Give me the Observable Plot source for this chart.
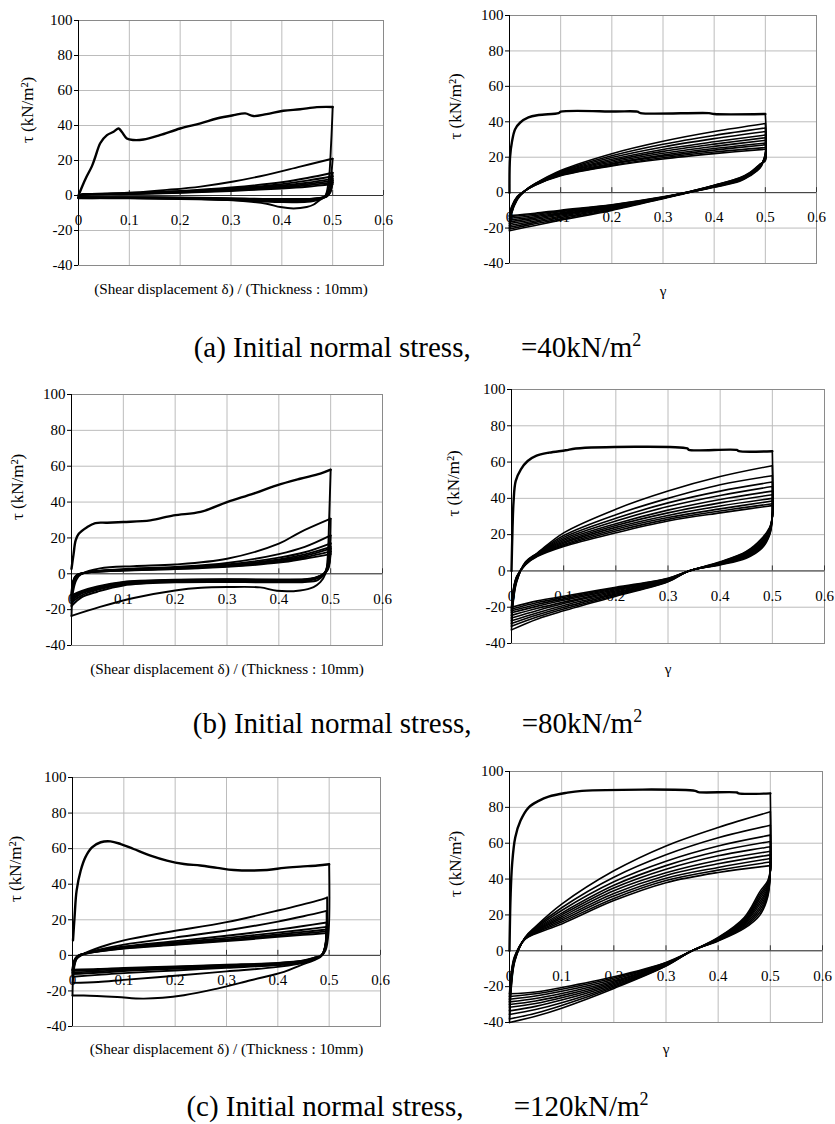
<!DOCTYPE html>
<html><head><meta charset="utf-8">
<script src="https://cdn.jsdelivr.net/npm/d3@7"></script>
<script src="https://cdn.jsdelivr.net/npm/@observablehq/plot@0.6"></script>
<style>
html,body{margin:0;padding:0;background:#fff;}
#page{position:relative;width:835px;height:1124px;overflow:hidden;font-family:"Liberation Serif","Times New Roman",serif;color:#000;}
#page svg, #page svg text{font-family:"Liberation Serif","Times New Roman",serif !important;}
.panel{position:absolute;}
.cap{position:absolute;left:0;width:835px;text-align:center;font-size:29px;line-height:29px;white-space:nowrap;font-family:"Liberation Serif","Times New Roman",serif;}
.cap sup{font-size:18px;line-height:0;vertical-align:11px;}
.gap{display:inline-block;width:43px;}
</style></head><body><div id="page"></div>
<script>
const FONT = "Liberation Serif";
const xTicks = [0, 0.1, 0.2, 0.3, 0.4, 0.5, 0.6];
const xTickLabels = ["0", "0.1", "0.2", "0.3", "0.4", "0.5", "0.6"];
const yTicks = [-40, -20, 0, 20, 40, 60, 80, 100];
const yTitle = "τ (kN/m²)";
const xTitleShear = "(Shear displacement δ) / (Thickness : 10mm)";
const xTitleGamma = "γ";
const captions = [
  ["(a) Initial normal stress,", "=40kN/m"],
  ["(b) Initial normal stress,", "=80kN/m"],
  ["(c) Initial normal stress,", "=120kN/m"]
];

// ---------- (a) left : shear displacement ratio ----------
const aL_load = [[0,0],[0.007,5],[0.016,10.8],[0.026,16.5],[0.033,22],[0.043,30],[0.056,34.5],[0.069,36.4],[0.079,38.3],[0.085,36.4],[0.095,32.6],[0.108,31.7],[0.128,32],[0.16,34.5],[0.2,38.3],[0.24,41.2],[0.272,44],[0.305,45.9],[0.328,46.9],[0.344,45.4],[0.37,46.5],[0.403,48.4],[0.436,49.3],[0.469,50.5],[0.5,50.6]];
const aL_unload = [
  [[0.5,50.6],[0.497,30],[0.492,8],[0.485,-0.6],[0.475,-2.5],[0.462,-5.3],[0.449,-6.6],[0.423,-7.4],[0.397,-6.6],[0.37,-4.7],[0.305,-2.8],[0.24,-2],[0.174,-1.7],[0.108,-1.5],[0.043,-1.5],[0,-1.6]],
  [[0.5,21],[0.494,6],[0.486,0],[0.47,-2.6],[0.45,-3.6],[0.4,-3.8],[0.35,-3.2],[0.3,-2.6],[0.2,-2],[0.1,-1.6],[0,-1.5]],
  [[0.5,13],[0.495,4],[0.488,0],[0.47,-2],[0.45,-3],[0.4,-3.2],[0.3,-2.4],[0.2,-1.8],[0.1,-1.4],[0,-1.3]],
  [[0.5,11],[0.495,3],[0.488,-0.5],[0.47,-2.2],[0.44,-3.3],[0.38,-3],[0.3,-2.2],[0.2,-1.6],[0.1,-1.3],[0,-1.2]],
  [[0.5,9.5],[0.495,2.5],[0.488,-0.3],[0.47,-1.6],[0.43,-2.5],[0.35,-2.3],[0.25,-1.6],[0.1,-1.1],[0,-1]],
  [[0.5,8.5],[0.495,2],[0.488,-0.5],[0.47,-1.8],[0.44,-2.8],[0.4,-2.6],[0.3,-1.9],[0.15,-1.2],[0,-1]],
  [[0.5,7.5],[0.495,1.5],[0.488,-0.6],[0.46,-1.8],[0.4,-2],[0.3,-1.6],[0.15,-1],[0,-0.9]]
];
const aL_reload = [
  [[0,-1.6],[0.003,0.4],[0.043,0.8],[0.108,1.7],[0.174,3.2],[0.24,5.1],[0.305,8],[0.37,11.8],[0.436,16.5],[0.495,20.7],[0.5,21]],
  [[0,-1.5],[0.004,0.3],[0.05,0.8],[0.1,1.4],[0.2,2.6],[0.3,4.6],[0.4,7.6],[0.45,10],[0.5,13]],
  [[0,-1.3],[0.004,0.2],[0.05,0.7],[0.1,1.2],[0.2,2.3],[0.3,4],[0.4,6.5],[0.45,8.5],[0.5,11]],
  [[0,-1.2],[0.004,0.2],[0.1,1.1],[0.2,2.1],[0.3,3.6],[0.4,5.7],[0.45,7.3],[0.5,9.5]],
  [[0,-1],[0.004,0.2],[0.1,1],[0.2,1.9],[0.3,3.2],[0.4,5],[0.45,6.5],[0.5,8.5]],
  [[0,-1],[0.004,0.1],[0.1,0.9],[0.2,1.7],[0.3,2.9],[0.4,4.5],[0.45,5.8],[0.5,7.5]],
  [[0,-0.9],[0.004,0.1],[0.1,0.8],[0.2,1.5],[0.3,2.6],[0.4,4],[0.45,5],[0.5,6.5]]
];

// ---------- (a) right : gamma ----------
const aR_load = [[0,0],[0.001,19.8],[0.005,29],[0.011,35.8],[0.021,39.6],[0.037,42.5],[0.057,43.8],[0.096,44.9],[0.1,45.7],[0.207,45.8],[0.25,45.7],[0.256,44.9],[0.39,44.9],[0.4,44.4],[0.5,44.4]];
const aR_unload_x = [0.5,0.5,0.49,0.47,0.45,0.4,0.35,0.3,0.2,0.1,0.05,0];
const aR_unload_y = [
  [44.4,22,14,9.5,6.5,3,0,-3.4,-10,-15.5,-18.5,-21.5],
  [39,22,14.5,9.8,6.8,3.2,0.1,-3.2,-9.5,-14.8,-17.6,-20.5],
  [36.5,21.5,14.8,10,7,3.3,0.1,-3.1,-9.1,-14,-16.8,-19.5],
  [34.5,21,15,10.2,7.2,3.5,0.2,-3,-8.7,-13.3,-16,-18.5],
  [32.5,20.5,15.2,10.4,7.4,3.6,0.2,-2.9,-8.3,-12.6,-15.2,-17.5],
  [31,20,15.4,10.6,7.6,3.8,0.3,-2.8,-7.9,-12,-14.4,-16.5],
  [29.5,19.5,15.6,10.8,7.8,3.9,0.3,-2.7,-7.6,-11.4,-13.6,-15.5],
  [28,19,15.8,11,8,4,0.4,-2.6,-7.3,-10.8,-12.9,-14.5],
  [27,18.5,16,11.2,8.2,4.1,0.4,-2.5,-7,-10.3,-12.2,-13.5],
  [25.5,18,16.2,11.4,8.4,4.2,0.5,-2.4,-6.8,-9.9,-11.6,-13]
];
const aR_reload_x = [0,0.004,0.015,0.03,0.05,0.1,0.2,0.3,0.4,0.5];
const aR_reload_y = [
  [-21.5,-12,-4,1,5,12.5,22,29,34.5,39],
  [-20.5,-11.5,-3.8,1,5,12,20.8,27.3,32.3,36.5],
  [-19.5,-11,-3.6,1,4.9,11.6,19.8,25.8,30.5,34.5],
  [-18.5,-10.5,-3.4,1,4.8,11.2,18.8,24.4,28.7,32.5],
  [-17.5,-10,-3.2,1,4.7,10.9,18,23.3,27.4,31],
  [-16.5,-9.6,-3,1,4.6,10.6,17.2,22.2,26.1,29.5],
  [-15.5,-9.2,-2.8,1,4.5,10.3,16.5,21.2,24.9,28],
  [-14.5,-8.8,-2.6,1,4.4,10,16,20.5,24,27],
  [-13.5,-8.4,-2.4,1,4.3,9.8,15.4,19.7,22.9,25.5],
  [-13,-8,-2.2,1,4.2,9.5,15,19,22,24.5]
];

// ---------- (b) left ----------
const bL_load = [[0,2.8],[0.004,11],[0.008,18.6],[0.014,22.3],[0.03,26],[0.046,28.3],[0.069,28.5],[0.1,28.9],[0.152,29.8],[0.197,32.6],[0.249,34.5],[0.3,40],[0.351,44.7],[0.396,49.3],[0.441,53],[0.48,55.9],[0.5,58.1]];
const bL_unload = [
  [[0.5,58.1],[0.497,30],[0.494,8],[0.49,0],[0.48,-4.7],[0.467,-7.4],[0.441,-9.3],[0.396,-9.5],[0.364,-7.6],[0.3,-7.4],[0.25,-7.8],[0.2,-9.3],[0.12,-13.5],[0.055,-18.5],[0,-23.5]],
  [[0.5,30.7],[0.496,8],[0.488,0],[0.475,-3.5],[0.45,-4.6],[0.4,-4.8],[0.3,-4.6],[0.2,-4.8],[0.1,-6.5],[0.05,-10],[0.02,-13],[0,-18]],
  [[0.5,21.4],[0.495,5],[0.487,0],[0.47,-3],[0.45,-4],[0.4,-4.2],[0.3,-4],[0.2,-4.3],[0.1,-6],[0.05,-9],[0.02,-12],[0,-16]],
  [[0.5,17],[0.495,4],[0.487,0],[0.47,-2.7],[0.45,-3.7],[0.4,-3.9],[0.3,-3.7],[0.2,-4],[0.1,-5.5],[0.05,-8.5],[0.02,-11],[0,-15]],
  [[0.5,15],[0.495,3.5],[0.487,0],[0.47,-2.5],[0.45,-3.4],[0.4,-3.6],[0.3,-3.4],[0.2,-3.7],[0.1,-5],[0.05,-8],[0.02,-10.5],[0,-14]],
  [[0.5,14],[0.495,3],[0.487,0],[0.47,-2.3],[0.45,-3.2],[0.4,-3.4],[0.3,-3.2],[0.2,-3.5],[0.1,-4.8],[0.05,-7.5],[0.02,-10],[0,-13]],
  [[0.5,12.5],[0.495,2.5],[0.487,0],[0.47,-2.2],[0.45,-3],[0.4,-3.2],[0.3,-3],[0.2,-3.3],[0.1,-4.5],[0.05,-7],[0.02,-9.5],[0,-12]]
];
const bL_reload = [
  [[0,-23.5],[0.003,-10],[0.01,-3],[0.02,0],[0.055,3],[0.12,4.3],[0.2,5.2],[0.3,8.4],[0.4,16.8],[0.44,23],[0.5,30.7]],
  [[0,-18],[0.003,-7],[0.01,-1.5],[0.03,0.8],[0.1,2.6],[0.2,3.8],[0.3,6],[0.4,11],[0.45,15],[0.5,21.4]],
  [[0,-16],[0.003,-6],[0.01,-1.2],[0.03,0.8],[0.1,2.4],[0.2,3.4],[0.3,5.2],[0.4,9],[0.45,12],[0.5,17]],
  [[0,-15],[0.003,-5.5],[0.01,-1],[0.03,0.8],[0.1,2.2],[0.2,3.2],[0.3,4.8],[0.4,8],[0.45,10.8],[0.5,15]],
  [[0,-14],[0.003,-5],[0.01,-1],[0.03,0.7],[0.1,2],[0.2,3],[0.3,4.5],[0.4,7.4],[0.45,10],[0.5,14]],
  [[0,-13],[0.003,-4.5],[0.01,-0.8],[0.03,0.7],[0.1,1.9],[0.2,2.8],[0.3,4.2],[0.4,6.8],[0.45,9.2],[0.5,12.5]],
  [[0,-12],[0.003,-4],[0.01,-0.7],[0.03,0.6],[0.1,1.8],[0.2,2.6],[0.3,3.9],[0.4,6.2],[0.45,8.4],[0.5,11]]
];

// ---------- (b) right ----------
const bR_load = [[0,0],[0.002,23.7],[0.004,38.4],[0.008,49.5],[0.018,56],[0.031,60.6],[0.047,63.4],[0.072,65.2],[0.104,66.5],[0.123,67.5],[0.337,67.5],[0.34,66.7],[0.432,66.7],[0.436,66],[0.5,66]];
const bR_unload_x = [0.5,0.5,0.495,0.48,0.45,0.4,0.34,0.3,0.2,0.1,0.05,0];
const bR_unload_y = [
  [66,30,20,12.5,7,3.3,0,-6,-14,-22,-26.5,-32.5],
  [58,30,20.5,13,7.5,3.5,0,-5.8,-13.4,-21,-25.3,-30.5],
  [52.5,30,21,13.6,8,3.7,0,-5.6,-12.8,-20,-24.2,-29],
  [49,30,21.5,14.2,8.4,3.9,0,-5.4,-12.2,-19,-23,-27.5],
  [46.5,30,22,14.8,8.8,4.1,0,-5.1,-11.6,-18,-21.8,-26],
  [44,30,22.5,15.4,9.2,4.3,0,-4.9,-11,-17.2,-20.6,-24.5],
  [42,30,23,16,9.6,4.5,0,-4.6,-10.4,-16.2,-19.4,-23],
  [40,30,23.3,16.6,10,4.7,0,-4.4,-9.8,-15.4,-18.4,-22],
  [38.5,30,23.6,17.3,10.4,4.8,0,-4.2,-9.4,-14.6,-17.4,-21],
  [37,30,24,18,10.7,5,0,-4,-9,-14,-16.5,-20]
];
const bR_reload_x = [0,0.003,0.01,0.027,0.05,0.1,0.2,0.3,0.4,0.5];
const bR_reload_y = [
  [-32.5,-18,-6,5,10,21,34,44,52,58],
  [-30.5,-17,-5.6,4.8,9.8,19.5,31,40,47.5,52.5],
  [-29,-16,-5.2,4.6,9.6,18.5,29,37.5,44,49],
  [-27.5,-15,-4.8,4.4,9.4,17.6,27.5,35.5,41.6,46.5],
  [-26,-14.2,-4.4,4.2,9.2,16.8,26,33.5,39.4,44],
  [-24.5,-13.5,-4,4,9,16,25,32,37.5,42],
  [-23,-12.8,-3.7,3.9,8.8,15.3,24,30.6,35.8,40],
  [-22,-12.2,-3.4,3.8,8.6,14.6,23,29.4,34.2,38.5],
  [-21,-11.6,-3.2,3.6,8.3,14,22,28.4,33,37],
  [-20,-11,-3,3.5,8,13.5,21,27.5,32,36]
];

// ---------- (c) left ----------
const cL_load = [[0.001,8.4],[0.004,21.5],[0.008,36.4],[0.016,47.7],[0.025,55.1],[0.038,60.7],[0.055,63.6],[0.074,64.1],[0.094,62.6],[0.119,59.8],[0.152,56.1],[0.184,53.3],[0.217,51.4],[0.249,50.5],[0.282,49.2],[0.314,48],[0.379,48],[0.412,49.2],[0.444,49.9],[0.477,50.5],[0.5,51.2]];
const cL_unload = [
  [[0.5,51.2],[0.499,14],[0.493,2.8],[0.483,-0.9],[0.47,-2.8],[0.444,-5.6],[0.412,-9.3],[0.347,-14],[0.282,-18.7],[0.217,-22.4],[0.139,-24.3],[0.087,-23.4],[0.022,-22.6],[0,-22.6]],
  [[0.496,32.5],[0.494,8],[0.488,1],[0.48,-1],[0.46,-3.5],[0.4,-6.5],[0.3,-9],[0.2,-11.5],[0.1,-13.8],[0.05,-15],[0,-15.5]],
  [[0.495,25],[0.493,6],[0.486,0],[0.47,-2],[0.45,-4],[0.4,-5.5],[0.3,-7],[0.2,-8.5],[0.1,-10],[0.05,-11],[0,-12]],
  [[0.495,18.5],[0.492,5],[0.485,0],[0.47,-1.8],[0.45,-3.5],[0.4,-5],[0.3,-6.5],[0.2,-7.5],[0.1,-8.8],[0.05,-9.8],[0,-10.5]],
  [[0.495,16],[0.492,4.5],[0.485,0],[0.47,-1.6],[0.45,-3.2],[0.4,-4.7],[0.3,-6],[0.2,-7],[0.1,-8.2],[0.05,-9],[0,-9.5]],
  [[0.495,14.5],[0.492,4],[0.485,0],[0.47,-1.5],[0.45,-3],[0.4,-4.4],[0.3,-5.6],[0.2,-6.5],[0.1,-7.5],[0.05,-8.2],[0,-8.5]],
  [[0.495,13.5],[0.492,3.5],[0.485,0],[0.47,-1.4],[0.45,-2.8],[0.4,-4.2],[0.3,-5.3],[0.2,-6.2],[0.1,-7.1],[0.05,-7.7],[0,-8]]
];
const cL_reload = [
  [[0,-22.6],[0.002,-10],[0.008,-2],[0.02,0.5],[0.055,4.7],[0.1,8.4],[0.184,13],[0.3,18.7],[0.4,25.2],[0.477,30.8],[0.496,32.5]],
  [[0,-15.5],[0.003,-6],[0.01,-1],[0.03,1.5],[0.1,6],[0.2,10],[0.3,14],[0.4,19],[0.45,22],[0.495,25]],
  [[0,-12],[0.003,-5],[0.01,-0.8],[0.03,1.5],[0.1,5],[0.2,8],[0.3,11],[0.4,14.5],[0.45,16.5],[0.495,18.5]],
  [[0,-10.5],[0.003,-4.5],[0.01,-0.6],[0.03,1.5],[0.1,4.6],[0.2,7.2],[0.3,9.8],[0.4,12.8],[0.45,14.4],[0.495,16]],
  [[0,-9.5],[0.003,-4],[0.01,-0.5],[0.03,1.4],[0.1,4.3],[0.2,6.6],[0.3,9],[0.4,11.8],[0.45,13.2],[0.495,14.5]],
  [[0,-8.5],[0.003,-3.5],[0.01,-0.4],[0.03,1.3],[0.1,4],[0.2,6.2],[0.3,8.4],[0.4,11],[0.45,12.3],[0.495,13.5]],
  [[0,-8],[0.003,-3],[0.01,-0.3],[0.03,1.2],[0.1,3.8],[0.2,5.9],[0.3,8],[0.4,10.4],[0.45,11.5],[0.495,12.5]]
];

// ---------- (c) right ----------
const cR_load = [[0,0],[0.002,29.7],[0.005,48.3],[0.011,63.2],[0.021,72.5],[0.037,80],[0.056,83.6],[0.075,86],[0.107,88],[0.139,89.2],[0.356,89.2],[0.362,88.5],[0.436,88.3],[0.439,87.8],[0.5,87.8]];
const cR_unload_x = [0.5,0.5,0.495,0.48,0.45,0.4,0.35,0.3,0.2,0.1,0.05,0];
const cR_unload_y = [
  [87.8,45,30,20,12.5,5.5,0,-8.5,-21,-32,-36.5,-40],
  [77.5,45,31,21.5,13.2,5.7,0,-8.3,-20.3,-30.5,-34.8,-38],
  [70,45,32,23,13.9,5.9,0,-8.1,-19.6,-29,-32.8,-35.5],
  [64.5,45,33,24.5,14.6,6.1,0,-7.9,-18.9,-27.5,-31,-33.5],
  [61,45,34,26,15.2,6.3,0,-7.6,-18.2,-26.2,-29.4,-31.5],
  [58,45,35,27.5,15.8,6.5,0,-7.4,-17.5,-25,-28,-30],
  [55.5,45,36,29,16.4,6.7,0,-7.2,-16.8,-23.8,-26.6,-28.5],
  [53.5,45,37,30.3,17,6.9,0,-7,-16,-22.6,-25.2,-27],
  [51.5,45,38,31.6,17.8,7.2,0,-6.7,-15.2,-21.5,-24,-25.5],
  [49.5,45,39,33,18.6,7.4,0,-6.5,-14.5,-20.5,-23,-24]
];
const cR_reload_x = [0,0.003,0.01,0.03,0.05,0.1,0.2,0.3,0.4,0.5];
const cR_reload_y = [
  [-40,-22,-6,7.5,13.5,26,44.6,58.5,68.8,77.5],
  [-38,-21,-5.6,7.4,13,24,41,53.5,63,70],
  [-35.5,-19.5,-5.2,7.3,12.5,22.5,38.5,50,58.5,64.5],
  [-33.5,-18.5,-4.9,7.2,12,21,36.5,47.5,55.5,61],
  [-31.5,-17.5,-4.6,7.1,11.6,20,35,45.5,53,58],
  [-30,-16.5,-4.3,7,11.2,19,33.5,43.5,50.5,55.5],
  [-28.5,-15.7,-4,6.9,10.8,18,32,42,48.5,53.5],
  [-27,-14.8,-3.6,6.8,10.3,17,30.5,40.5,46.5,51.5],
  [-25.5,-13.9,-3.3,6.6,9.9,16,29.2,39.2,45,49.5],
  [-24,-13,-3,6.5,9.5,15,28,38,43.7,47.5]
];

// ---------- helpers ----------
function pairRows(list, prefix, rows) {
  list.forEach((pts, k) => pts.forEach(([x, y]) => rows.push({x, y, id: prefix + k})));
}
function sharedRows(xs, ys, prefix, rows) {
  ys.forEach((yv, k) => yv.forEach((y, i) => rows.push({x: xs[i], y, id: prefix + k})));
}
const xTickData = xTicks.map((v, i) => ({x: v, y: 0, label: xTickLabels[i]}));

function panel(spec) {
  const {L, R, T, B, load, cycles, cycleWidth, xTitle, titleDy, yOff} = spec;
  const mL = 70, mR = 10, mT = 10, mB = 45;
  const loadRows = load.map(([x, y]) => ({x, y}));
  const chart = Plot.plot({
    width: R - L + mL + mR,
    height: B - T + mT + mB,
    marginLeft: mL, marginRight: mR, marginTop: mT, marginBottom: mB,
    x: {domain: [0, 0.6], axis: null},
    y: {domain: [-40, 100]},
    style: {fontFamily: "'Liberation Serif', serif", background: "transparent", overflow: "visible", color: "black"},
    marks: [
      Plot.gridX(xTicks, {stroke: "#bcbcbc", strokeOpacity: 1}),
      Plot.gridY(yTicks, {stroke: "#bcbcbc", strokeOpacity: 1}),
      Plot.frame({stroke: "#8a8a8a"}),
      Plot.ruleY([0], {stroke: "#333"}),
      Plot.ruleX(xTickData, {x: "x", y1: "y", y2: "y", insetTop: -5, stroke: "#333"}),
      Plot.text(xTickData, {x: "x", y: "y", text: "label", dy: 25, fontSize: 15, fill: "black", fontFamily: FONT}),
      Plot.axisY(yTicks, {tickSize: 4, tickPadding: 2, fontSize: 15, tickFormat: (d) => String(d), label: null, stroke: "black", fill: "black", fontFamily: FONT}),
      Plot.ruleX([0], {stroke: "black"}),
      Plot.line(cycles, {x: "x", y: "y", z: "id", stroke: "black", strokeWidth: cycleWidth, curve: "catmull-rom"}),
      Plot.line(loadRows, {x: "x", y: "y", stroke: "black", strokeWidth: 2.4, curve: "catmull-rom"}),
      Plot.text([xTitle], {text: (d) => d, frameAnchor: "bottom", dy: titleDy, fontSize: 15.2, fill: "black", fontFamily: FONT}),
      Plot.text([yTitle], {text: (d) => d, frameAnchor: "left", dx: -yOff, rotate: -90, fontSize: 17, fill: "black", fontFamily: FONT})
    ]
  });
  chart.classList.add("panel");
  chart.style.left = (L - mL) + "px";
  chart.style.top = (T - mT) + "px";
  return chart;
}

const page = document.getElementById("page");

const aLc = []; pairRows(aL_unload, "u", aLc); pairRows(aL_reload, "r", aLc);
const aRc = []; sharedRows(aR_unload_x, aR_unload_y, "u", aRc); sharedRows(aR_reload_x, aR_reload_y, "r", aRc);
const bLc = []; pairRows(bL_unload, "u", bLc); pairRows(bL_reload, "r", bLc);
const bRc = []; sharedRows(bR_unload_x, bR_unload_y, "u", bRc); sharedRows(bR_reload_x, bR_reload_y, "r", bRc);
const cLc = []; pairRows(cL_unload, "u", cLc); pairRows(cL_reload, "r", cLc);
const cRc = []; sharedRows(cR_unload_x, cR_unload_y, "u", cRc); sharedRows(cR_reload_x, cR_reload_y, "r", cRc);

const specs = [
  {L: 78, R: 383, T: 20, B: 265, load: aL_load, cycles: aLc, cycleWidth: 1.9, xTitle: xTitleShear, titleDy: 28, yOff: 51},
  {L: 509, R: 816, T: 15, B: 263, load: aR_load, cycles: aRc, cycleWidth: 1.6, xTitle: xTitleGamma, titleDy: 32, yOff: 54},
  {L: 71, R: 382, T: 394, B: 645, load: bL_load, cycles: bLc, cycleWidth: 1.9, xTitle: xTitleShear, titleDy: 28, yOff: 54},
  {L: 511, R: 824, T: 389, B: 643, load: bR_load, cycles: bRc, cycleWidth: 1.6, xTitle: xTitleGamma, titleDy: 30, yOff: 58},
  {L: 72, R: 380, T: 777, B: 1026, load: cL_load, cycles: cLc, cycleWidth: 1.9, xTitle: xTitleShear, titleDy: 27, yOff: 57},
  {L: 509, R: 822, T: 771, B: 1022, load: cR_load, cycles: cRc, cycleWidth: 1.6, xTitle: xTitleGamma, titleDy: 31, yOff: 54}
];
specs.forEach((s) => page.appendChild(panel(s)));

const capTops = [333, 709, 1092];
captions.forEach(([a, b], i) => {
  const d = document.createElement("div");
  d.className = "cap";
  d.style.top = capTops[i] + "px";
  d.appendChild(document.createTextNode(a + " "));
  const g = document.createElement("span"); g.className = "gap"; d.appendChild(g);
  d.appendChild(document.createTextNode(b));
  const s = document.createElement("sup"); s.textContent = "2"; d.appendChild(s);
  page.appendChild(d);
});
</script></body></html>
